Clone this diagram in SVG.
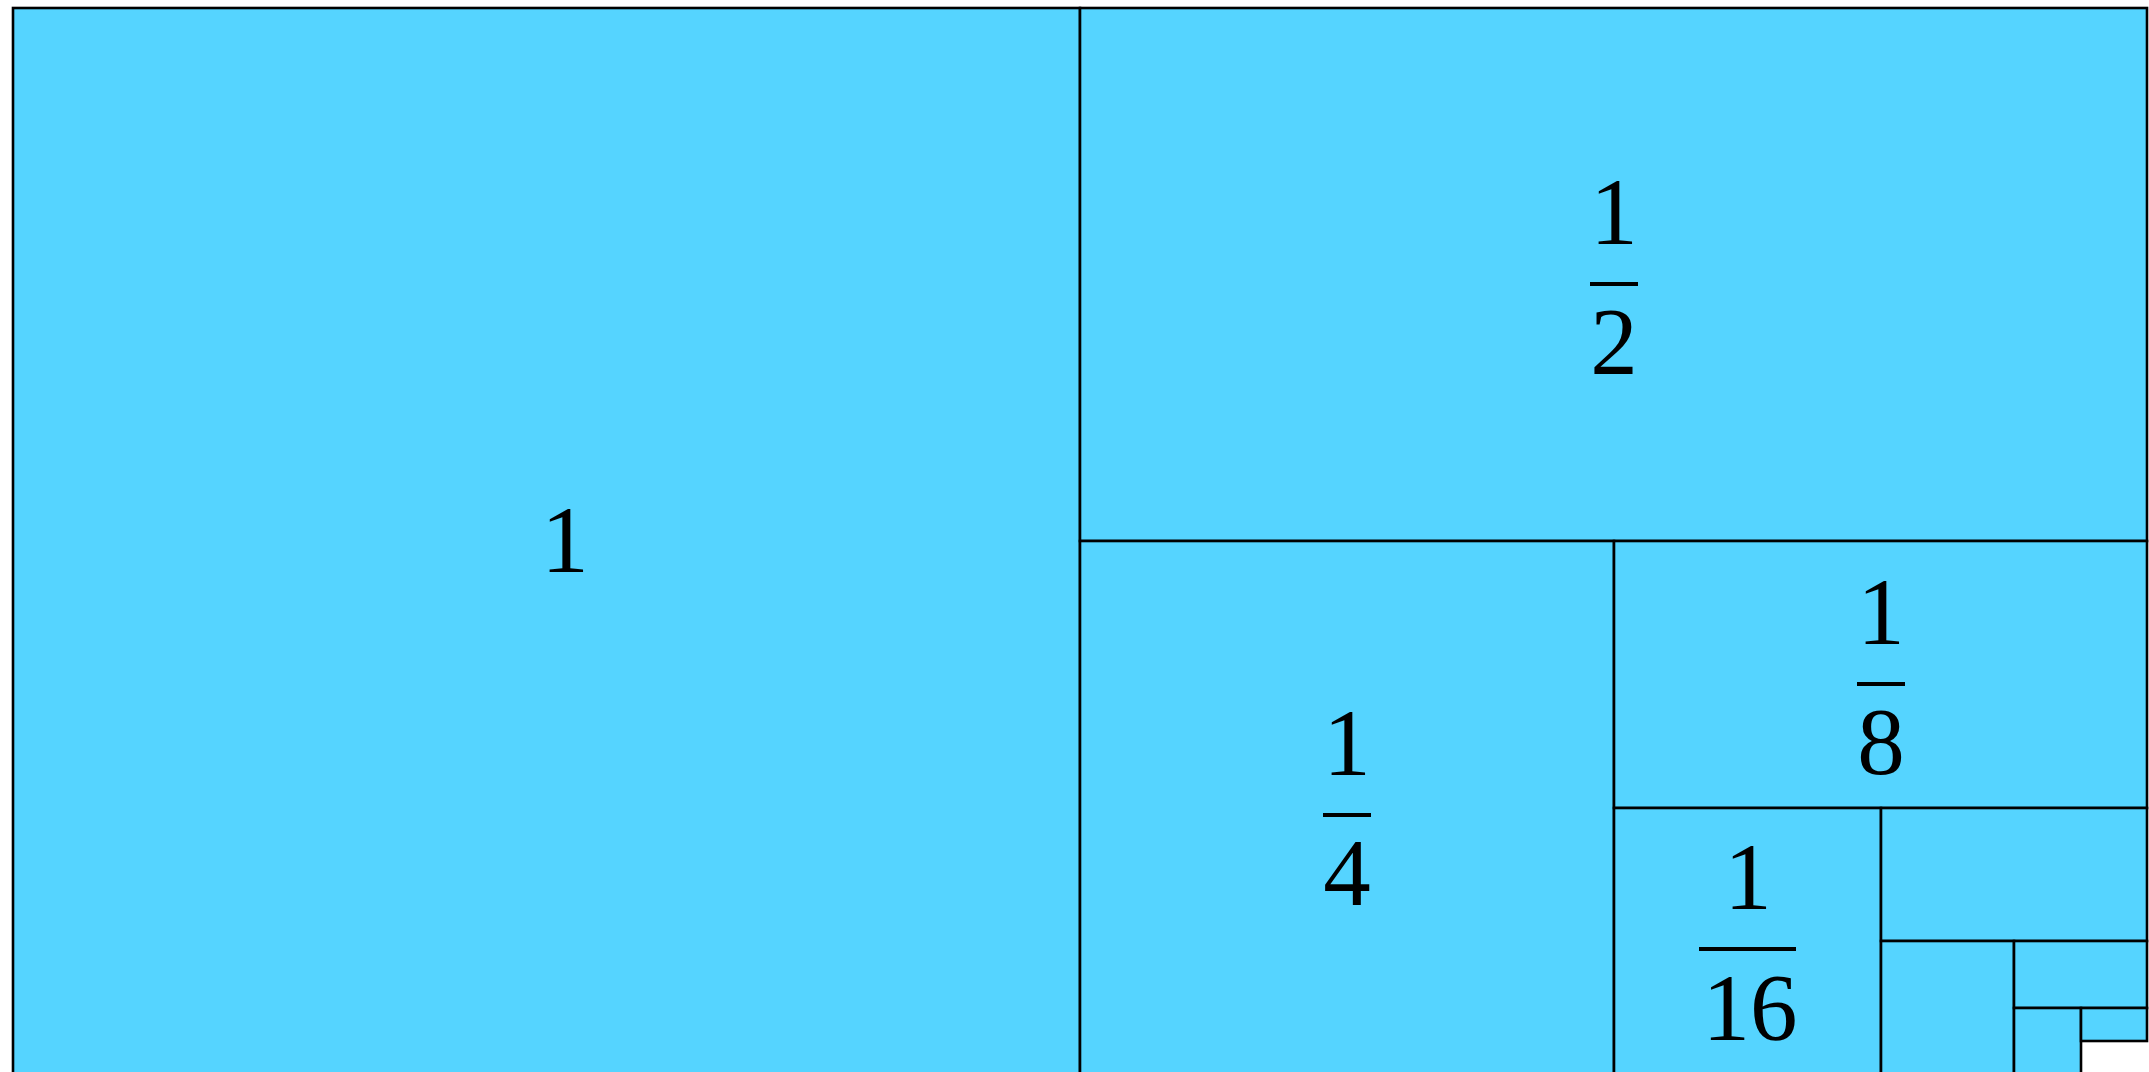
<svg xmlns="http://www.w3.org/2000/svg" width="2149" height="1072" viewBox="0 0 2149 1072">
<style>
.sq{fill:#55D4FF;stroke:#000;stroke-width:2.6}
.t{font-family:"Liberation Serif","DejaVu Serif",serif;font-size:95px;fill:#000;text-anchor:middle}
.bar{fill:#000}
</style>
<rect x="0" y="0" width="2149" height="1072" fill="#fff"/>
<g id="sq-1"><rect class="sq" x="13" y="8" width="1067" height="1067"/><text class="t" x="565" y="572">1</text></g>
<g id="sq-1-2"><rect class="sq" x="1080" y="8" width="1067" height="533"/><text class="t" x="1614" y="244">1</text><rect class="bar" x="1590" y="282" width="48" height="4"/><text class="t" x="1614" y="374">2</text></g>
<g id="sq-1-4"><rect class="sq" x="1080" y="541" width="534" height="534"/><text class="t" x="1347" y="775">1</text><rect class="bar" x="1323" y="813" width="48" height="4"/><text class="t" x="1347" y="905">4</text></g>
<g id="sq-1-8"><rect class="sq" x="1614" y="541" width="533" height="267"/><text class="t" x="1881" y="644">1</text><rect class="bar" x="1857" y="682" width="48" height="4"/><text class="t" x="1881" y="774">8</text></g>
<g id="sq-1-16"><rect class="sq" x="1614" y="808" width="267" height="267"/><text class="t" x="1748" y="909">1</text><rect class="bar" x="1699" y="947" width="97" height="4"/><text class="t" x="1750" y="1040">16</text></g>
<g id="sq-1-32"><rect class="sq" x="1881" y="808" width="266" height="133"/></g>
<g id="sq-1-64"><rect class="sq" x="1881" y="941" width="133" height="134"/></g>
<g id="sq-1-128"><rect class="sq" x="2014" y="941" width="133" height="67"/></g>
<g id="sq-1-256"><rect class="sq" x="2014" y="1008" width="67" height="67"/></g>
<g id="sq-1-512"><rect class="sq" x="2081" y="1008" width="66" height="33"/></g>
</svg>
